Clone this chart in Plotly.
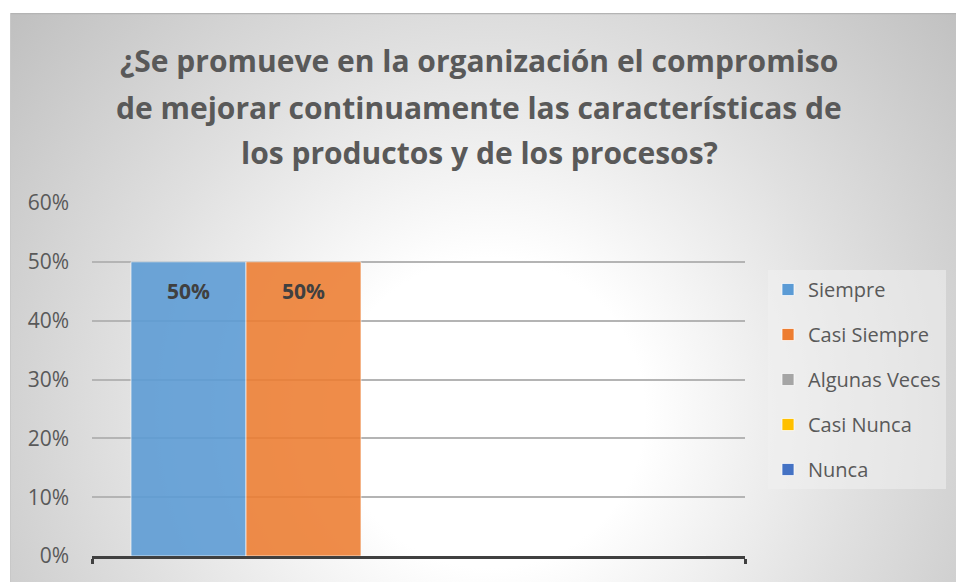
import base64
import plotly.graph_objects as go

# ---- data ----
series = ["Siempre", "Casi Siempre", "Algunas Veces", "Casi Nunca", "Nunca"]
values = [0.50, 0.50, 0.0, 0.0, 0.0]
colors = ["#5b9bd5", "#ed7d31", "#a5a5a5", "#ffc000", "#4472c4"]
title_lines = [
    "¿Se promueve en la organización el compromiso",
    "de mejorar continuamente las características de",
    "los productos y de los procesos?",
]
y_ticks = [0, 0.1, 0.2, 0.3, 0.4, 0.5, 0.6]
y_ticklabels = ["0%", "10%", "20%", "30%", "40%", "50%", "60%"]

W, H = 956, 582
L, R, T, B = 92, 211, 203, 26
pw, ph = W - L - R, H - T - B

# background radial gradient (chart area) as an SVG image
cw, chh = 946, 569
svg = f'''<svg xmlns="http://www.w3.org/2000/svg" width="{cw}" height="{chh}" viewBox="0 0 {cw} {chh}">
<defs><radialGradient id="g" gradientUnits="userSpaceOnUse" cx="480" cy="400" r="620">
<stop offset="0" stop-color="#ffffff"/><stop offset="0.25" stop-color="#ffffff"/>
<stop offset="0.6" stop-color="#e0e0e0"/><stop offset="1" stop-color="#c0c0c0"/></radialGradient></defs>
<rect x="0" y="0" width="{cw}" height="{chh}" fill="url(#g)"/>
<line x1="0" y1="0.5" x2="{cw}" y2="0.5" stroke="#b4b4b4" stroke-width="1.5"/>
<line x1="0.5" y1="0" x2="0.5" y2="{chh}" stroke="#c8c8c8" stroke-width="1"/>
</svg>'''
src = "data:image/svg+xml;base64," + base64.b64encode(svg.encode()).decode()


def px_x(p):
    return (p - L) / pw


def px_y(p):
    return (H - B - p) / ph


xr = [-0.839, 4.839]

fig = go.Figure()
for i, (name, v, c) in enumerate(zip(series, values, colors)):
    fig.add_trace(go.Bar(
        x=[i], y=[v], name=name, width=1.0,
        marker=dict(color=c, opacity=0.88,
                    line=dict(color="rgba(255,255,255,0.7)", width=1)),
        legendgroup=name, hoverinfo="skip",
    ))
    if v > 0:
        fig.add_annotation(x=i, y=v, xref="x", yref="y", text=f"<b>{v:.0%}</b>",
                           showarrow=False, yshift=-29,
                           font=dict(family="Open Sans", size=21, color="#404040"))

title_y = [60, 107, 152]
for k, line in enumerate(title_lines):
    fig.add_annotation(x=px_x(479), xref="paper", y=px_y(title_y[k]), yref="paper",
                       xanchor="center", yanchor="middle",
                       text=f"<b>{line}</b>", showarrow=False,
                       font=dict(family="Open Sans", size=30, color="#595959"))

fig.update_layout(
    width=W, height=H,
    margin=dict(l=L, r=R, t=T, b=B, pad=0, autoexpand=False),
    paper_bgcolor="white",
    plot_bgcolor="rgba(0,0,0,0)",
    barmode="overlay",
    showlegend=True,
    legend=dict(x=px_x(768), y=px_y(270), xanchor="left", yanchor="top",
                bgcolor="rgba(240,240,240,0.55)",
                font=dict(family="Open Sans", size=20, color="#595959"),
                tracegroupgap=16, itemclick=False, itemwidth=30),
    images=[dict(source=src, xref="paper", yref="paper",
                 x=px_x(10), y=px_y(13), sizex=cw / pw, sizey=chh / ph,
                 xanchor="left", yanchor="top", sizing="stretch", layer="below")],
    xaxis=dict(range=xr, showgrid=False, zeroline=False, showline=True,
               linecolor="#404040", linewidth=3,
               tickmode="array", tickvals=xr, ticks="outside", ticklen=5,
               tickwidth=3, tickcolor="#404040", showticklabels=False, fixedrange=True),
    yaxis=dict(range=[0, 0.6], tickmode="array", tickvals=y_ticks, ticktext=y_ticklabels,
               showgrid=True, gridcolor="#b4b4b4", gridwidth=1.5, zeroline=False,
               showline=False, ticks="", ticklabelstandoff=22,
               tickfont=dict(family="Open Sans", size=21, color="#595959"), fixedrange=True),
)

fig.write_html("out.html", config={"displayModeBar": False},
               post_script="document.body.style.margin='0';document.body.style.overflow='hidden';")
